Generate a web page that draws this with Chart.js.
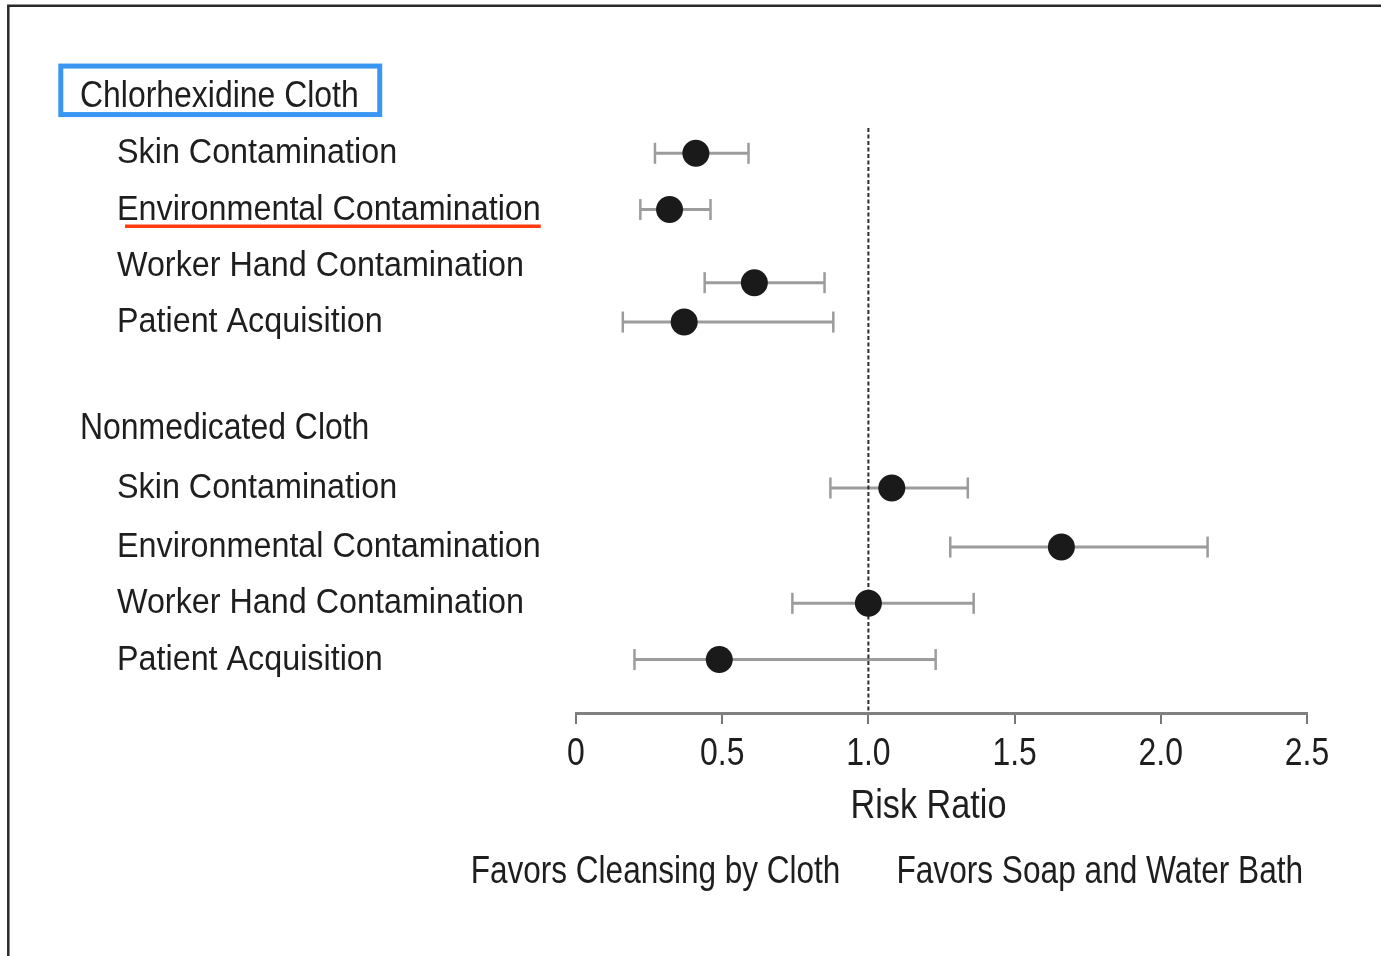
<!DOCTYPE html>
<html>
<head>
<meta charset="utf-8">
<script src="https://cdn.jsdelivr.net/npm/chart.js@4.4.1/dist/chart.umd.min.js"></script>
<style>
  html, body { margin: 0; padding: 0; background: #fff; }
  canvas { display: block; }
</style>
</head>
<body>
<canvas id="forestChart" width="1381" height="956"></canvas>
<script>
// Groups and outcomes
var groupNames = ['Chlorhexidine Cloth', 'Nonmedicated Cloth'];
var outcomeNames = ['Skin Contamination', 'Environmental Contamination', 'Worker Hand Contamination', 'Patient Acquisition'];

// Risk ratios and 95% CI, per outcome
var chgRatio = [0.41, 0.32, 0.61, 0.37];
var chgLow   = [0.27, 0.22, 0.44, 0.16];
var chgHigh  = [0.59, 0.46, 0.85, 0.88];
var nonRatio = [1.08, 1.66, 1.00, 0.49];
var nonLow   = [0.87, 1.28, 0.74, 0.20];
var nonHigh  = [1.34, 2.16, 1.36, 1.23];

// rows on the vertical axis (0 = top)
var groupRows    = [0, 5.9];
var chgRows      = [1, 2, 3, 4];
var chgPointRows = [1, 2, 3.3, 4];
var nonRows      = [6.95, 8, 9, 10];

// x axis
var xTicks = [0, 0.5, 1.0, 1.5, 2.0, 2.5];
var xTickLabels = ['0', '0.5', '1.0', '1.5', '2.0', '2.5'];
var xTitle = 'Risk Ratio';
var leftCaption = 'Favors Cleansing by Cloth';
var rightCaption = 'Favors Soap and Water Bath';
var noEffect = 1.0;
var rowMin = 0.55, rowMax = 10.95;

// no narrow font installed: Liberation Sans squeezed sideways
var fam = "'Liberation Sans', Arial, sans-serif";
var ink = '#1e1e1e';
var ciColor = '#9c9c9c';

Chart.defaults.font.family = fam;
Chart.defaults.color = ink;

// build datasets
var pointData = [];
var ciSets = [];
function addRows(ratio, low, high, rows) {
    for (var i = 0; i < ratio.length; i++) {
        pointData.push({ x: ratio[i], y: rows[i] });
        ciSets.push({
            type: 'line',
            data: [{ x: low[i], y: rows[i] }, { x: high[i], y: rows[i] }],
            showLine: true,
            borderColor: ciColor,
            borderWidth: 3,
            pointStyle: 'line',
            rotation: 90,
            pointRadius: 10.5,
            pointHoverRadius: 10.5,
            pointBorderColor: ciColor,
            pointBorderWidth: 2.5,
            order: 2
        });
    }
}
addRows(chgRatio, chgLow, chgHigh, chgPointRows);
addRows(nonRatio, nonLow, nonHigh, nonRows);

var datasets = [{
    data: pointData,
    backgroundColor: '#1a1a1a',
    borderWidth: 0,
    pointRadius: 13.5,
    pointHoverRadius: 13.5,
    order: 0
}, {
    // reference line at RR = 1
    type: 'line',
    data: [{ x: noEffect, y: rowMin }, { x: noEffect, y: rowMax }],
    showLine: true,
    borderColor: '#2b2b2b',
    borderWidth: 2,
    borderDash: [4, 2.5],
    pointRadius: 0,
    order: 1
}].concat(ciSets);

function drawText(ctx, text, x, y, size, stretch, align) {
    ctx.save();
    ctx.font = size + 'px ' + fam;
    ctx.textBaseline = 'alphabetic';
    ctx.textAlign = align || 'left';
    ctx.fillStyle = ink;
    ctx.translate(x, y);
    ctx.scale(stretch, 1);
    ctx.fillText(text, 0, 0);
    var w = ctx.measureText(text).width * stretch;
    ctx.restore();
    return w;
}

var decorPlugin = {
    id: 'decor',
    beforeDraw: function (chart) {
        var ctx = chart.ctx;
        ctx.save();
        ctx.fillStyle = '#fff';
        ctx.fillRect(0, 0, chart.width, chart.height);
        // frame (top and left)
        ctx.strokeStyle = '#2a2a2a';
        ctx.lineWidth = 2.5;
        ctx.beginPath();
        ctx.moveTo(8.3, chart.height);
        ctx.lineTo(8.3, 5.7);
        ctx.lineTo(chart.width, 5.7);
        ctx.stroke();
        ctx.restore();
    },
    afterDraw: function (chart) {
        var ctx = chart.ctx;
        var y = chart.scales.y, x = chart.scales.x;

        // group headers
        var headW = [];
        groupNames.forEach(function (g, i) {
            headW.push(drawText(ctx, g, 80, y.getPixelForValue(groupRows[i]) + 10, 36.5, 0.875));
        });
        // outcome labels
        var envW = 0;
        outcomeNames.forEach(function (o, i) {
            var w = drawText(ctx, o, 117, y.getPixelForValue(chgRows[i]) + 10, 35.5, 0.91);
            if (i === 1) envW = w;
            drawText(ctx, o, 117, y.getPixelForValue(nonRows[i]) + 10, 35.5, 0.91);
        });

        // highlight box round the first header
        var hb = y.getPixelForValue(groupRows[0]) + 10;
        ctx.save();
        ctx.strokeStyle = '#3a96f3';
        ctx.lineWidth = 5;
        ctx.strokeRect(60.8, hb - 41, 80 + headW[0] + 21 - 60.8, 48.5);
        // red underline under Environmental Contamination
        var eb = y.getPixelForValue(chgRows[1]) + 10;
        ctx.strokeStyle = '#ff3b10';
        ctx.lineWidth = 3.5;
        ctx.beginPath();
        ctx.moveTo(125, eb + 6.7);
        ctx.lineTo(117 + envW, eb + 6.7);
        ctx.stroke();
        ctx.restore();

        // tick labels at the scale's own ticks
        x.ticks.forEach(function (t) {
            var lbl = xTickLabels[xTicks.indexOf(t.value)];
            drawText(ctx, lbl, x.getPixelForValue(t.value), x.bottom + 41, 38, 0.84, 'center');
        });
        // axis title
        drawText(ctx, xTitle, (x.left + x.right) / 2 - 13, x.bottom + 94, 40.5, 0.845, 'center');

        // direction captions
        var cx = x.getPixelForValue(noEffect);
        drawText(ctx, leftCaption, cx - 28, 883, 38.6, 0.817, 'right');
        drawText(ctx, rightCaption, cx + 28, 883, 38.6, 0.82, 'left');
    }
};

new Chart(document.getElementById('forestChart'), {
    type: 'scatter',
    data: { datasets: datasets },
    options: {
        responsive: false,
        animation: false,
        layout: {
            padding: { left: 576, right: 74, top: 128, bottom: 232 }
        },
        scales: {
            x: {
                type: 'linear',
                position: 'bottom',
                min: 0,
                max: 2.5,
                afterBuildTicks: function (scale) {
                    scale.ticks = xTicks.map(function (v) { return { value: v }; });
                },
                ticks: { display: false },
                grid: {
                    drawOnChartArea: false,
                    drawTicks: true,
                    tickLength: 11,
                    color: '#777',
                    lineWidth: 2
                },
                border: { display: true, color: '#808080', width: 3 },
                title: { display: false }
            },
            y: {
                type: 'linear',
                reverse: true,
                min: rowMin,
                max: rowMax,
                display: false
            }
        },
        plugins: {
            legend: { display: false },
            tooltip: { enabled: false }
        }
    },
    plugins: [decorPlugin]
});
</script>
</body>
</html>
